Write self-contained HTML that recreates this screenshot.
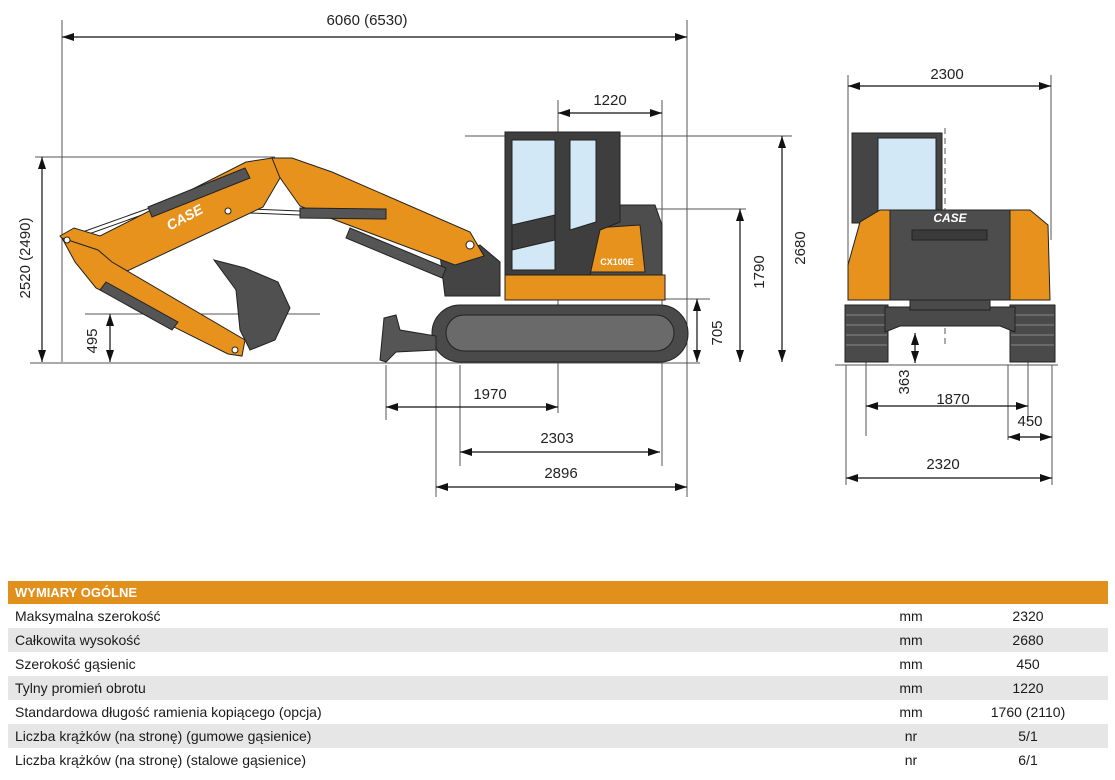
<!DOCTYPE html>
<html><head><meta charset="utf-8"><style>
body{margin:0;width:1115px;height:780px;background:#fff;font-family:"Liberation Sans",Arial,sans-serif;position:relative;overflow:hidden}
svg{position:absolute;left:0;top:0}
.tbl{position:absolute;left:8px;top:581px;width:1100px}
.hd{height:23px;background:#e2901c;color:#fff;font-weight:bold;font-size:13px;line-height:24px;padding-left:7px}
.r{height:24px;line-height:24px;font-size:14px;color:#1a1a1a;position:relative}
.r.g{background:#e6e6e6}
.r span{position:absolute}
.r .a{left:7px}.r .u{left:880px;width:46px;text-align:center}.r .v{left:970px;width:100px;text-align:center}
</style></head><body>
<svg width="1115" height="580" viewBox="0 0 1115 580">
<defs><marker id="ar" viewBox="0 0 12 8" refX="12" refY="4" markerWidth="12" markerHeight="8" orient="auto-start-reverse" markerUnits="userSpaceOnUse"><path d="M0,0L12,4L0,8z" fill="#111"/></marker></defs>
<g stroke="#555" stroke-width="1" fill="none">
<line x1="62" y1="20" x2="62" y2="362"/><line x1="687" y1="20" x2="687" y2="497"/>
<line x1="558" y1="100" x2="558" y2="413"/><line x1="662" y1="100" x2="662" y2="466"/>
<line x1="465" y1="136" x2="792" y2="136"/><line x1="540" y1="209" x2="746" y2="209"/>
<line x1="620" y1="299" x2="710" y2="299"/><line x1="35" y1="157" x2="275" y2="157"/>
<line x1="85" y1="314" x2="320" y2="314"/><line x1="30" y1="363" x2="700" y2="363"/>
<line x1="386" y1="365" x2="386" y2="420"/><line x1="460" y1="365" x2="460" y2="466"/>
<line x1="436" y1="330" x2="436" y2="497"/>
<line x1="848" y1="75" x2="848" y2="290"/><line x1="1051" y1="75" x2="1051" y2="240"/>
<line x1="835" y1="365" x2="1058" y2="365"/>
<line x1="866" y1="330" x2="866" y2="436"/><line x1="1028" y1="330" x2="1028" y2="422"/>
<line x1="1008" y1="365" x2="1008" y2="440"/><line x1="1052" y1="365" x2="1052" y2="485"/>
<line x1="846" y1="365" x2="846" y2="485"/>
<line x1="945" y1="128" x2="945" y2="345" stroke-dasharray="6,4"/>
</g>
<g stroke="#111" stroke-width="1.2" marker-start="url(#ar)" marker-end="url(#ar)">
<line x1="62" y1="37" x2="687" y2="37"/><line x1="558" y1="113" x2="662" y2="113"/>
<line x1="782" y1="136" x2="782" y2="362"/><line x1="740" y1="209" x2="740" y2="362"/>
<line x1="697" y1="299" x2="697" y2="362"/><line x1="42" y1="157" x2="42" y2="362"/>
<line x1="110" y1="314" x2="110" y2="362"/>
<line x1="386" y1="407" x2="558" y2="407"/><line x1="460" y1="452" x2="660" y2="452"/>
<line x1="436" y1="487" x2="687" y2="487"/>
<line x1="848" y1="86" x2="1051" y2="86"/><line x1="915" y1="333" x2="915" y2="363"/>
<line x1="866" y1="406" x2="1028" y2="406"/><line x1="1008" y1="437" x2="1052" y2="437"/>
<line x1="846" y1="478" x2="1052" y2="478"/>
</g>
<g font-size="15" fill="#222" text-anchor="middle" font-family="Liberation Sans,Arial,sans-serif">
<text x="367" y="25">6060 (6530)</text><text x="610" y="105">1220</text>
<text x="490" y="399">1970</text><text x="557" y="443">2303</text><text x="561" y="478">2896</text>
<text x="947" y="79">2300</text><text x="953" y="404">1870</text><text x="1030" y="426">450</text><text x="943" y="469">2320</text>
<text transform="translate(805,248) rotate(-90)">2680</text>
<text transform="translate(764,272) rotate(-90)">1790</text>
<text transform="translate(722,333) rotate(-90)">705</text>
<text transform="translate(30,258) rotate(-90)">2520 (2490)</text>
<text transform="translate(97,341) rotate(-90)">495</text>
<text transform="translate(909,382) rotate(-90)">363</text>
</g>
<g stroke="#222" stroke-width="1">
<rect x="432" y="305" width="256" height="57" rx="28" fill="#4a4a4a"/>
<rect x="446" y="315" width="228" height="36" rx="18" fill="#6a6a6a"/>
<path d="M384,318L396,315L400,330L436,336L436,350L396,352L386,362L380,360Z" fill="#555"/>
<path d="M505,275L665,275L665,300L505,300Z" fill="#e8921e"/>
<path d="M600,205L655,205L662,225L662,275L590,275L600,230Z" fill="#4d4d4d"/>
<path d="M595,228L640,225L645,272L590,272Z" fill="#e8921e"/>
<path d="M505,132L620,132L620,222L600,230L590,275L505,275Z" fill="#3e3e3e"/>
<path d="M512,140L555,140L555,270L512,270Z" fill="#d2e8f6"/>
<path d="M570,140L596,140L596,222L570,230Z" fill="#d2e8f6"/>
<path d="M512,225L555,215L555,240L512,250Z" fill="#3e3e3e"/>
<path d="M440,255L480,245L500,262L500,296L445,296Z" fill="#444"/>
<!-- thin rods -->
<g stroke="#222" stroke-width="5"><line x1="66" y1="240" x2="150" y2="210"/><line x1="225" y1="210" x2="300" y2="213"/><line x1="170" y1="322" x2="232" y2="350"/></g>
<g stroke="#fff" stroke-width="3"><line x1="66" y1="240" x2="150" y2="210"/><line x1="225" y1="210" x2="300" y2="213"/><line x1="170" y1="322" x2="232" y2="350"/></g>
<!-- boom right -->
<path d="M272,158L292,158L332,172L470,232L484,256L455,265L330,218L300,206L283,182L275,170Z" fill="#e8921e"/>
<!-- arm with CASE -->
<path d="M246,162L272,158L280,178L263,207L125,272L98,264L72,250L60,236L74,228L100,236Z" fill="#e8921e"/>
<!-- lower arm -->
<path d="M62,238L98,250L112,262L245,340L242,356L228,354L96,288L75,262Z" fill="#e8921e"/>
<g stroke="#222" fill="#555">
<path d="M148,207L245,168L250,178L152,217Z"/><path d="M300,208L386,209L386,219L300,218Z"/>
<path d="M350,228L446,268L442,278L346,238Z"/><path d="M106,282L178,322L172,330L100,290Z"/>
</g>
<path d="M214,260L245,268L278,282L290,308L275,340L250,350L240,330L236,290Z" fill="#505050"/>
<g fill="#fff" stroke="#222"><circle cx="235" cy="350" r="3"/><circle cx="67" cy="240" r="3"/><circle cx="228" cy="211" r="3"/><circle cx="470" cy="245" r="4"/></g>
</g>
<text x="185" y="222" font-size="14" font-weight="bold" font-style="italic" fill="#fff" text-anchor="middle" transform="rotate(-28 185 218)">CASE</text>
<text x="617" y="265" font-size="9" font-weight="bold" fill="#fff" text-anchor="middle">CX100E</text>
<g stroke="#222" stroke-width="1">
<rect x="845" y="305" width="43" height="57" fill="#4a4a4a"/><rect x="1010" y="305" width="45" height="57" fill="#4a4a4a"/>
<g stroke="#888"><line x1="846" y1="315" x2="887" y2="315"/><line x1="846" y1="325" x2="887" y2="325"/><line x1="846" y1="335" x2="887" y2="335"/><line x1="846" y1="345" x2="887" y2="345"/><line x1="1011" y1="315" x2="1054" y2="315"/><line x1="1011" y1="325" x2="1054" y2="325"/><line x1="1011" y1="335" x2="1054" y2="335"/><line x1="1011" y1="345" x2="1054" y2="345"/></g>
<path d="M885,307L1015,307L1015,332L1000,326L900,326L885,332Z" fill="#4a4a4a"/>
<rect x="910" y="298" width="80" height="12" fill="#4a4a4a"/>
<rect x="852" y="133" width="90" height="90" fill="#454545"/>
<rect x="878" y="138" width="58" height="75" fill="#d2e8f6"/>
<path d="M848,300L848,265L860,222L880,210L1030,210L1048,225L1050,300Z" fill="#e8921e"/>
<path d="M890,210L1010,210L1010,300L890,300Z" fill="#4d4d4d"/>
<rect x="912" y="230" width="75" height="10" fill="#3a3a3a"/>
</g>
<text x="950" y="222" font-size="12" font-weight="bold" font-style="italic" fill="#fff" text-anchor="middle">CASE</text>
</svg>
<div class="tbl">
<div class="hd">WYMIARY OGÓLNE</div>
<div class="r"><span class="a">Maksymalna szerokość</span><span class="u">mm</span><span class="v">2320</span></div>
<div class="r g"><span class="a">Całkowita wysokość</span><span class="u">mm</span><span class="v">2680</span></div>
<div class="r"><span class="a">Szerokość gąsienic</span><span class="u">mm</span><span class="v">450</span></div>
<div class="r g"><span class="a">Tylny promień obrotu</span><span class="u">mm</span><span class="v">1220</span></div>
<div class="r"><span class="a">Standardowa długość ramienia kopiącego (opcja)</span><span class="u">mm</span><span class="v">1760 (2110)</span></div>
<div class="r g"><span class="a">Liczba krążków (na stronę) (gumowe gąsienice)</span><span class="u">nr</span><span class="v">5/1</span></div>
<div class="r"><span class="a">Liczba krążków (na stronę) (stalowe gąsienice)</span><span class="u">nr</span><span class="v">6/1</span></div>
</div>
</body></html>
